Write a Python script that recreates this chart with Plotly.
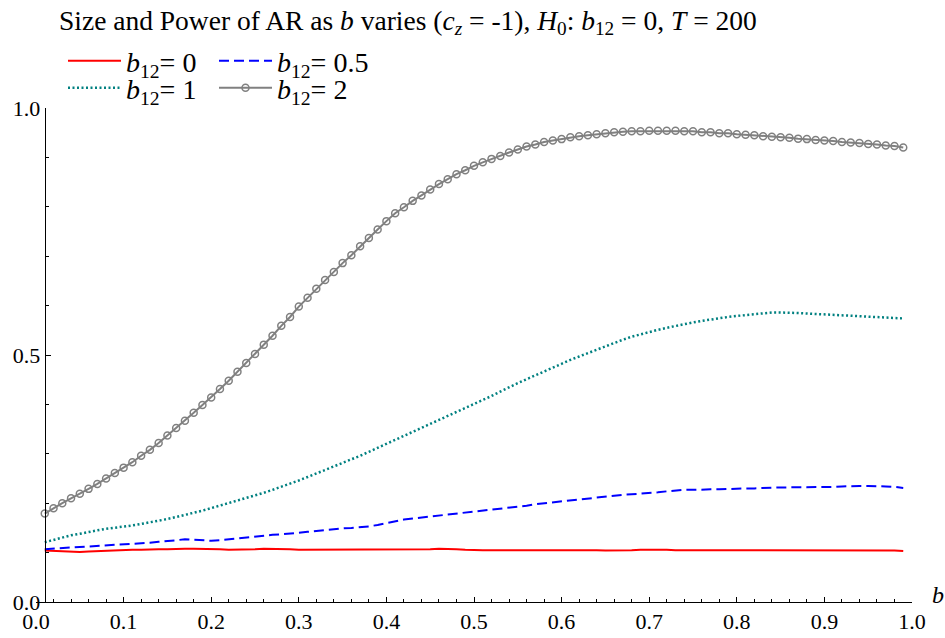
import plotly.graph_objects as go

# b values (0.01 .. 0.99)
b_values = [round(0.01 * i, 2) for i in range(1, 100)]

# rejection frequencies
rej_b12_0 = [0.104, 0.103, 0.102, 0.101, 0.101, 0.102, 0.103, 0.103, 0.104, 0.105,
             0.106, 0.106, 0.107, 0.107, 0.107, 0.108, 0.108, 0.108, 0.108, 0.107,
             0.107, 0.106, 0.106, 0.107, 0.107, 0.108, 0.108, 0.108, 0.107, 0.106,
             0.106, 0.106, 0.107, 0.107, 0.106, 0.106, 0.106, 0.106, 0.107, 0.107,
             0.107, 0.106, 0.106, 0.107, 0.107, 0.108, 0.108, 0.107, 0.106, 0.105,
             0.105, 0.105, 0.105, 0.105, 0.105, 0.105, 0.105, 0.106, 0.106, 0.105,
             0.105, 0.105, 0.105, 0.105, 0.104, 0.104, 0.105, 0.105, 0.106, 0.106,
             0.107, 0.106, 0.105, 0.105, 0.105, 0.104, 0.104, 0.104, 0.105, 0.105,
             0.105, 0.105, 0.104, 0.104, 0.104, 0.104, 0.105, 0.105, 0.105, 0.105,
             0.105, 0.104, 0.104, 0.104, 0.104, 0.104, 0.104, 0.104, 0.103]

rej_b12_05 = [0.107, 0.108, 0.109, 0.110, 0.111, 0.112, 0.113, 0.115, 0.116, 0.117,
              0.118, 0.119, 0.120, 0.122, 0.123, 0.125, 0.127, 0.126, 0.125, 0.124,
              0.125, 0.127, 0.129, 0.131, 0.133, 0.135, 0.136, 0.137, 0.138, 0.140,
              0.142, 0.144, 0.146, 0.148, 0.149, 0.150, 0.151, 0.153, 0.156, 0.160,
              0.164, 0.167, 0.169, 0.171, 0.173, 0.175, 0.177, 0.179, 0.181, 0.183,
              0.185, 0.186, 0.188, 0.190, 0.193, 0.195, 0.198, 0.200, 0.202, 0.204,
              0.206, 0.208, 0.210, 0.212, 0.213, 0.215, 0.217, 0.218, 0.219, 0.220,
              0.222, 0.224, 0.226, 0.227, 0.227, 0.228, 0.228, 0.228, 0.229, 0.229,
              0.230, 0.230, 0.231, 0.232, 0.232, 0.232, 0.232, 0.232, 0.232, 0.233,
              0.233, 0.234, 0.235, 0.235, 0.235, 0.235, 0.234, 0.233, 0.231]

rej_b12_1 = [0.121, 0.126, 0.131, 0.135, 0.138, 0.142, 0.145, 0.148, 0.150, 0.152,
             0.155, 0.158, 0.161, 0.165, 0.168, 0.172, 0.176, 0.180, 0.185, 0.190,
             0.195, 0.200, 0.205, 0.210, 0.215, 0.221, 0.227, 0.233, 0.239, 0.246,
             0.253, 0.260, 0.267, 0.274, 0.281, 0.288, 0.296, 0.304, 0.312, 0.320,
             0.328, 0.336, 0.344, 0.352, 0.360, 0.368, 0.376, 0.384, 0.392, 0.400,
             0.408, 0.417, 0.426, 0.435, 0.443, 0.451, 0.459, 0.467, 0.475, 0.483,
             0.490, 0.497, 0.504, 0.511, 0.518, 0.525, 0.531, 0.537, 0.542, 0.547,
             0.551, 0.555, 0.559, 0.563, 0.566, 0.569, 0.572, 0.574, 0.577, 0.579,
             0.581, 0.583, 0.585, 0.586, 0.586, 0.586, 0.585, 0.584, 0.583, 0.582,
             0.582, 0.581, 0.580, 0.579, 0.578, 0.576, 0.575, 0.575, 0.574]

rej_b12_2 = [0.179, 0.190, 0.200, 0.210, 0.219, 0.229, 0.239, 0.250, 0.261, 0.272,
             0.283, 0.296, 0.308, 0.322, 0.337, 0.352, 0.367, 0.383, 0.399, 0.414,
             0.431, 0.448, 0.466, 0.484, 0.502, 0.521, 0.539, 0.559, 0.577, 0.598,
             0.616, 0.634, 0.652, 0.668, 0.686, 0.702, 0.720, 0.737, 0.754, 0.771,
             0.787, 0.799, 0.812, 0.823, 0.835, 0.846, 0.856, 0.866, 0.874, 0.883,
             0.890, 0.897, 0.903, 0.910, 0.916, 0.922, 0.926, 0.931, 0.934, 0.937,
             0.941, 0.943, 0.945, 0.947, 0.949, 0.951, 0.952, 0.953, 0.953, 0.954,
             0.954, 0.954, 0.954, 0.953, 0.953, 0.951, 0.951, 0.949, 0.949, 0.947,
             0.946, 0.945, 0.943, 0.942, 0.941, 0.940, 0.938, 0.937, 0.935, 0.934,
             0.933, 0.931, 0.930, 0.929, 0.927, 0.926, 0.924, 0.923, 0.920]

series_names = ["<i>b</i><sub>12</sub>= 0", "<i>b</i><sub>12</sub>= 0.5",
                "<i>b</i><sub>12</sub>= 1", "<i>b</i><sub>12</sub>= 2"]

x_ticks = [0.0, 0.1, 0.2, 0.3, 0.4, 0.5, 0.6, 0.7, 0.8, 0.9, 1.0]
x_ticklabels = ["0.0", "0.1", "0.2", "0.3", "0.4", "0.5", "0.6", "0.7", "0.8", "0.9", "1.0"]
y_ticks = [0.0, 0.5, 1.0]
y_ticklabels = ["0.0", "0.5", "1.0"]

FONT = "Liberation Serif"

fig = go.Figure()
fig.add_trace(go.Scatter(x=b_values, y=rej_b12_0, mode="lines", name=series_names[0],
                         line=dict(color="#FF0000", width=2), legend="legend"))
fig.add_trace(go.Scatter(x=b_values, y=rej_b12_05, mode="lines", name=series_names[1],
                         line=dict(color="#0000FF", width=2, dash="10px,5px"), legend="legend2"))
fig.add_trace(go.Scatter(x=b_values, y=rej_b12_1, mode="lines", name=series_names[2],
                         line=dict(color="#008080", width=2.5, dash="2px,2.5px"), legend="legend3"))
fig.add_trace(go.Scatter(x=b_values, y=rej_b12_2, mode="lines+markers", name=series_names[3],
                         line=dict(color="#808080", width=2),
                         marker=dict(symbol="circle-open", size=7, color="#808080",
                                     line=dict(width=1.5, color="#808080")),
                         legend="legend4"))

W, H = 945, 638
L, R, T, B = 36, 33, 108, 36

legend_common = dict(orientation="h", xref="container", yref="container",
                     xanchor="left", yanchor="middle",
                     itemwidth=53, font=dict(family=FONT, size=28, color="black"),
                     bgcolor="rgba(0,0,0,0)")

col1, col2 = 63, 214
row1, row2 = 61, 88

fig.update_layout(
    width=W, height=H,
    margin=dict(l=L, r=R, t=T, b=B, autoexpand=False),
    paper_bgcolor="white", plot_bgcolor="white",
    font=dict(family=FONT, size=22, color="black"),
    title=dict(text="Size and Power of AR as <i>b</i> varies (<i>c</i><sub><i>z</i></sub> = -1), "
                    "<i>H</i><sub>0</sub>: <i>b</i><sub>12</sub> = 0, <i>T</i> = 200",
               xref="container", yref="container", x=59 / W, xanchor="left",
               y=1 - 20 / H, yanchor="middle", font=dict(family=FONT, size=27.5, color="black")),
    legend=dict(x=col1 / W, y=1 - row1 / H, **legend_common),
    legend2=dict(x=col2 / W, y=1 - row1 / H, **legend_common),
    legend3=dict(x=col1 / W, y=1 - row2 / H, **legend_common),
    legend4=dict(x=col2 / W, y=1 - row2 / H, **legend_common),
    xaxis=dict(range=[0, 1], showgrid=False, zeroline=False, showline=True,
               linecolor="black", linewidth=1, ticks="inside", ticklen=5, tickcolor="black",
               tickvals=x_ticks, ticktext=x_ticklabels, tickfont=dict(family=FONT, size=22),
               minor=dict(dtick=0.02, tick0=0, ticks="inside", ticklen=3, tickcolor="black"),
               automargin=False),
    yaxis=dict(range=[0, 1], showgrid=False, zeroline=False, showline=True,
               linecolor="black", linewidth=1, ticks="inside", ticklen=5, tickcolor="black",
               tickvals=y_ticks, ticktext=y_ticklabels, tickfont=dict(family=FONT, size=22),
               minor=dict(dtick=0.1, tick0=0, ticks="inside", ticklen=3, tickcolor="black"),
               anchor="free", position=0.01, automargin=False),
    showlegend=True,
)

fig.add_annotation(text="<i>b</i>", xref="paper", yref="paper", x=1.02, y=0.015,
                   xanchor="left", yanchor="middle", showarrow=False,
                   font=dict(family=FONT, size=24, color="black"))

fig.write_html("out.html", config={"displayModeBar": False},
               post_script="document.body.style.margin='0';")
